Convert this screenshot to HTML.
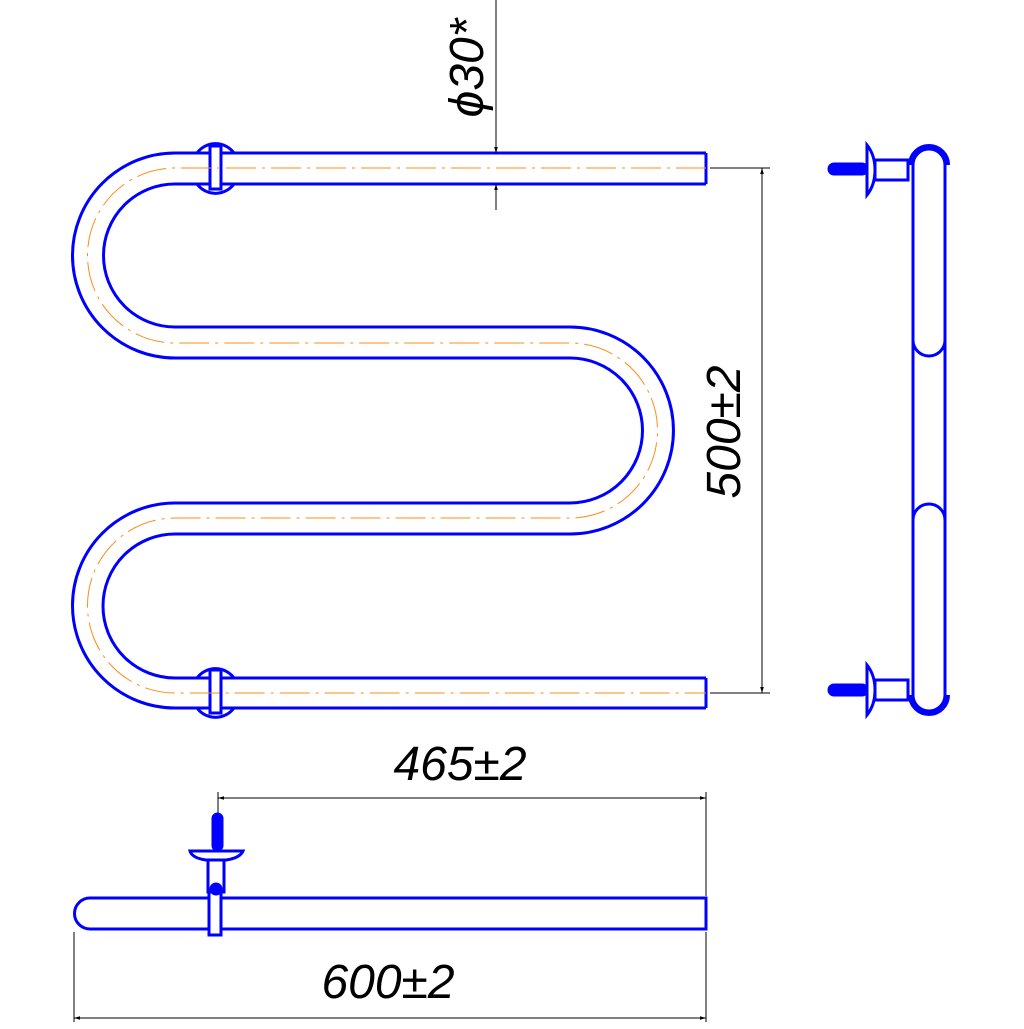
<!DOCTYPE html>
<html><head><style>html,body{margin:0;padding:0;background:#fff}</style></head>
<body>
<svg width="1024" height="1024" viewBox="0 0 1024 1024" xmlns="http://www.w3.org/2000/svg">
<defs>
<marker id="a" viewBox="0 0 10 10" refX="10" refY="5" markerWidth="14" markerHeight="6" markerUnits="userSpaceOnUse" orient="auto-start-reverse"><path d="M0,2 L10,5 L0,8 z" fill="#000"/></marker>
</defs>
<g fill="none" stroke="#0000ff" stroke-width="3">
<path d="M706,153 L175,153 A102.5,102.5 0 0 0 175,358 L570,358 A72.5,72.5 0 0 1 570,503 L175,503 A102.5,102.5 0 0 0 175,708 L706,708"/>
<path d="M706,184 L175,184 A71.5,71.5 0 0 0 175,327 L570,327 A103.5,103.5 0 0 1 570,534 L175,534 A72,72 0 0 0 175,678 L706,678"/>
<line x1="706" y1="153" x2="706" y2="184"/>
<line x1="706" y1="678" x2="706" y2="708"/>
<path d="M197,153 A23,23 0 0 1 234,153 M234,184 A23,23 0 0 1 197,184"/>
<rect x="210" y="146" width="11" height="43" fill="#fff"/>
<path d="M197,678 A23,23 0 0 1 234,678 M234,708 A23,23 0 0 1 197,708"/>
<rect x="210" y="670" width="11" height="43" fill="#fff"/>
</g>
<path d="M706,168 L175,168 A87.5,87.5 0 0 0 175,343 L570,343 A87.5,87.5 0 0 1 570,518 L175,518 A87.5,87.5 0 0 0 175,693 L706,693" fill="none" stroke="#ff8c1a" stroke-width="1" stroke-dasharray="30,6,3,6"/>

<g stroke="#000" stroke-width="1" fill="none">
<line x1="710" y1="168" x2="770" y2="168"/>
<line x1="710" y1="693" x2="770" y2="693"/>
<line x1="762" y1="168" x2="762" y2="693" marker-start="url(#a)" marker-end="url(#a)"/>
<line x1="496" y1="0" x2="496" y2="153" marker-end="url(#a)"/>
<line x1="496" y1="210" x2="496" y2="184" marker-end="url(#a)"/>
<line x1="218" y1="792" x2="218" y2="822"/>
<line x1="706" y1="792" x2="706" y2="896"/>
<line x1="218" y1="798" x2="706" y2="798" marker-start="url(#a)" marker-end="url(#a)"/>
<line x1="74" y1="932" x2="74" y2="1022"/>
<line x1="706" y1="932" x2="706" y2="1022"/>
<line x1="74" y1="1018" x2="706" y2="1018" marker-start="url(#a)" marker-end="url(#a)"/>
</g>
<g font-family="Liberation Sans, sans-serif" font-style="italic" font-size="48" fill="#000" text-anchor="middle">
<text transform="translate(740,432) rotate(-90)">500±2</text>
<text transform="translate(483,68) rotate(-90)">ϕ30*</text>
<text x="460" y="780">465±2</text>
<text x="388" y="998">600±2</text>
</g>

<g fill="none" stroke="#0000ff" stroke-width="3">
<path d="M706,898 L90,898 A15.5,15.5 0 0 0 90,929 L706,929 Z"/>
<rect x="209" y="880" width="12" height="55" fill="#fff"/>
<rect x="208" y="858" width="16" height="34" fill="#fff"/>
<circle cx="216" cy="889" r="5" fill="#0000ff"/>
<path d="M190,851 L243,851 Q240,858 226,860 L206,860 Q192,858 190,851 Z" fill="#fff"/>
<rect x="213" y="814" width="9" height="36" rx="4.5" fill="#0000ff"/>
</g>
<g fill="none" stroke="#0000ff" stroke-width="3">
<path d="M913,165 A16,16 0 0 1 945,165 L945,340 A16,16 0 0 1 913,340 Z"/>
<path d="M913,520 A16,16 0 0 1 945,520 L945,695 A16,16 0 0 1 913,695 Z"/>
<path d="M913,340 L913,520 M945,340 L945,520"/>
<path d="M911,165 A18,18 0 0 1 947,165" stroke-width="6"/>
<path d="M911,695 A18,18 0 0 0 947,695" stroke-width="6"/>
<rect x="875" y="160" width="33" height="20" fill="#fff"/>
<path d="M867,145 Q875,155 875,170 Q875,185 867,195 Z" fill="#fff"/>
<rect x="829" y="164" width="38" height="10" rx="5" fill="#0000ff"/>
<rect x="875" y="680" width="33" height="20" fill="#fff"/>
<path d="M867,665 Q875,675 875,690 Q875,705 867,715 Z" fill="#fff"/>
<rect x="829" y="685" width="38" height="10" rx="5" fill="#0000ff"/>
</g>
</svg>
</body></html>
